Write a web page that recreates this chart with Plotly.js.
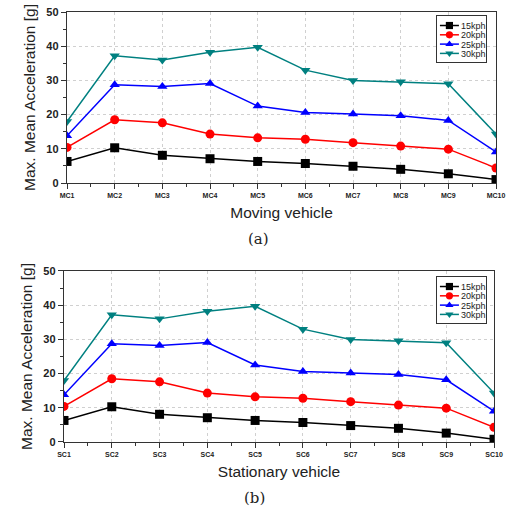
<!DOCTYPE html>
<html>
<head>
<meta charset="utf-8">
<script src="https://cdn.plot.ly/plotly-3.0.1.min.js"></script>
<style>
html,body{margin:0;padding:0;background:#fff;}
#chart{width:509px;height:511px;}
</style>
</head>
<body>
<div id="chart"></div>
<script>
// ---- data ----
const movingCats = ["MC1","MC2","MC3","MC4","MC5","MC6","MC7","MC8","MC9","MC10"];
const stationaryCats = ["SC1","SC2","SC3","SC4","SC5","SC6","SC7","SC8","SC9","SC10"];
const seriesNames = ["15kph","20kph","25kph","30kph"];

const moving15 = [6.3, 10.3, 8.1, 7.1, 6.3, 5.7, 4.9, 4.0, 2.7, 1.0];
const moving20 = [10.4, 18.5, 17.6, 14.3, 13.2, 12.8, 11.8, 10.8, 9.9, 4.4];
const moving25 = [13.8, 28.7, 28.2, 29.1, 22.5, 20.6, 20.2, 19.7, 18.3, 9.1];
const moving30 = [18.0, 37.2, 36.0, 38.2, 39.7, 33.0, 30.0, 29.6, 29.0, 14.3];

const stationary15 = [6.3, 10.3, 8.1, 7.1, 6.3, 5.7, 4.8, 4.0, 2.6, 0.8];
const stationary20 = [10.4, 18.5, 17.6, 14.3, 13.2, 12.8, 11.8, 10.8, 9.9, 4.3];
const stationary25 = [13.8, 28.7, 28.2, 29.1, 22.5, 20.6, 20.2, 19.7, 18.2, 9.0];
const stationary30 = [18.0, 37.2, 36.0, 38.2, 39.7, 33.0, 30.0, 29.6, 29.0, 14.3];

// ---- styles ----
const colors = ["#000000", "#ff0000", "#0000ff", "#008080"];
const symbols = ["square", "circle", "triangle-up", "triangle-down"];

function makeTraces(cats, vals, xa, ya, legendName) {
  const idx = cats.map((c, i) => i);
  return vals.map((v, k) => ({
    type: "scatter", mode: "lines+markers",
    x: idx, y: v, xaxis: xa, yaxis: ya,
    name: seriesNames[k], legend: legendName,
    line: {color: colors[k], width: 1.5},
    marker: {color: colors[k], symbol: symbols[k], size: 9}
  }));
}

const traces = [
  ...makeTraces(movingCats, [moving15, moving20, moving25, moving30], "x", "y", "legend"),
  ...makeTraces(stationaryCats, [stationary15, stationary20, stationary25, stationary30], "x2", "y2", "legend2")
];

const gridCol = "#d0d0d0";
function xAxis(cats, domain, anchor, title) {
  return {
    domain: domain, anchor: anchor, type: "linear",
    range: [0, cats.length - 1],
    tickvals: cats.map((c, i) => i), ticktext: cats,
    tickfont: {family: "Liberation Sans", size: 7, color: "#222", weight: "bold"},
    ticks: "outside", ticklen: 5, tickwidth: 1, tickcolor: "#333",
    minor: {dtick: 0.5, tick0: 0, ticks: "outside", ticklen: 3, tickcolor: "#333", showgrid: false},
    showgrid: true, gridcolor: gridCol, griddash: "dot", gridwidth: 1,
    showline: true, linecolor: "#333", linewidth: 1.2, mirror: true,
    zeroline: false,
    title: {text: title, font: {family: "Liberation Sans", size: 15.5, color: "#222"}, standoff: 9}
  };
}
function yAxis(domain, anchor) {
  return {
    domain: domain, anchor: anchor, range: [0, 50],
    tickvals: [0, 10, 20, 30, 40, 50],
    tickfont: {family: "Liberation Sans", size: 11, color: "#222", weight: "bold"},
    ticks: "outside", ticklen: 5, tickwidth: 1, tickcolor: "#333",
    minor: {tickvals: [5, 15, 25, 35, 45], ticks: "outside", ticklen: 3, tickcolor: "#333", showgrid: false},
    showgrid: true, gridcolor: gridCol, griddash: "dot", gridwidth: 1,
    showline: true, linecolor: "#333", linewidth: 1.2, mirror: true,
    zeroline: false,
    title: {text: "Max. Mean Acceleration [g]", font: {family: "Liberation Sans", size: 15.5, color: "#222"}, standoff: 7}
  };
}

const legendStyle = (y) => ({
  x: 0.979, xanchor: "right", y: y, yanchor: "top",
  bgcolor: "#ffffff", bordercolor: "#333", borderwidth: 1,
  font: {family: "Liberation Sans", size: 9, color: "#222"},
  itemwidth: 30, tracegroupgap: 0
});

const layout = {
  width: 509, height: 511,
  margin: {l: 64, r: 13, t: 12, b: 69},
  paper_bgcolor: "#ffffff", plot_bgcolor: "#ffffff",
  showlegend: true,
  xaxis: xAxis(movingCats, [0.007, 1.0], "y", "Moving vehicle"),
  yaxis: yAxis([0.6023, 1.0], "x"),
  xaxis2: xAxis(stationaryCats, [0.0, 0.9954], "y2", "Stationary vehicle"),
  yaxis2: yAxis([0.0, 0.3977], "x2"),
  legend: legendStyle(0.993),
  legend2: legendStyle(0.386),
  annotations: [
    {text: "(a)", xref: "paper", yref: "paper", x: 0.45, y: (442 - 239) / 430, yanchor: "middle", showarrow: false,
     font: {family: "DejaVu Serif", size: 15, color: "#222"}},
    {text: "(b)", xref: "paper", yref: "paper", x: 0.44, y: -(498 - 442) / 430, yanchor: "middle", showarrow: false,
     font: {family: "DejaVu Serif", size: 15, color: "#222"}}
  ]
};

function compactLegends(gd) {
  const legends = Array.from(gd.querySelectorAll("g.infolayer > g")).filter(g => /^legend\d*$/.test(g.getAttribute("class") || ""));
  legends.forEach(leg => {
    const items = leg.querySelectorAll("g.traces");
    if (!items.length) return;
    const y0 = 10.5, step = 9.3, newW = 50;
    items.forEach((t, i) => {
      t.setAttribute("transform", `translate(1,${y0 + i * step})`);
      t.querySelectorAll("g.legendlines path").forEach(p => p.setAttribute("d", "M3,0h19"));
      t.querySelectorAll("g.legendpoints path").forEach(p => p.setAttribute("transform", "translate(12.5,0) scale(0.8)"));
      t.querySelectorAll("text").forEach(tx => {
        tx.setAttribute("x", 24);
        tx.setAttribute("text-anchor", "start");
        tx.querySelectorAll("tspan").forEach(s => { if (s.hasAttribute("x")) s.setAttribute("x", 24); });
      });
    });
    const h = y0 + (items.length - 1) * step + 8.5;
    const bg = leg.querySelector("rect.bg");
    let oldW = newW;
    if (bg) { oldW = parseFloat(bg.getAttribute("width")); bg.setAttribute("width", newW); bg.setAttribute("height", h); }
    leg.querySelectorAll("clipPath rect").forEach(r => { r.setAttribute("height", h); r.setAttribute("width", newW); });
    const tr = leg.getAttribute("transform") || "";
    const m = /translate\(([-\d.]+),\s*([-\d.]+)\)/.exec(tr);
    if (m && Math.abs(oldW - newW) > 0.5) leg.setAttribute("transform", `translate(${parseFloat(m[1]) + oldW - newW},${m[2]})`);
  });
}

Plotly.newPlot("chart", traces, layout, {staticPlot: true}).then(gd => {
  compactLegends(gd);
  setTimeout(() => compactLegends(gd), 30);
  setTimeout(() => compactLegends(gd), 200);
});
</script>
</body>
</html>
